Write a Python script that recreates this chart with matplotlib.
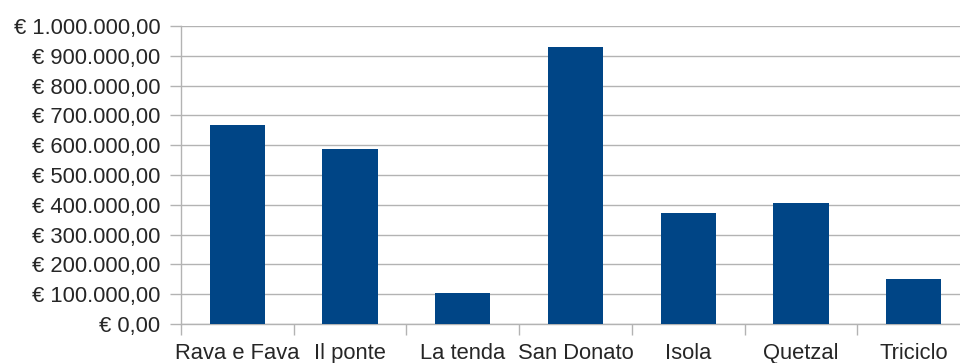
import matplotlib
matplotlib.use("Agg")
import matplotlib.pyplot as plt
from matplotlib.ticker import FuncFormatter, FixedLocator
import numpy as np

categories = ["Rava e Fava", "Il ponte", "La tenda", "San Donato", "Isola", "Quetzal", "Triciclo"]
values = [668000, 587000, 103000, 931000, 373000, 405000, 152000]
y_ticks = list(range(0, 1000001, 100000))

plt.rcParams["font.family"] = ["Liberation Sans", "DejaVu Sans"]

W, H = 960, 363
fig = plt.figure(figsize=(W / 100, H / 100), dpi=100)
fig.patch.set_facecolor("white")

# plot area in pixels: left edge 181, zero line at y=324, top gridline at y=26
left_px, right_px, bottom_px, top_px = 181, 970, 324, 26
ax = fig.add_axes([left_px / W, (H - bottom_px) / H,
                   (right_px - left_px) / W, (bottom_px - top_px) / H])

x = np.arange(len(categories))
ax.bar(x, values, width=0.49, color="#004586", zorder=3)

ax.set_xlim(-0.5, len(categories) - 0.5)
ax.set_ylim(0, 1000000)


def euro(v, pos=None):
    s = f"{v:,.2f}".replace(",", "X").replace(".", ",").replace("X", ".")
    return f"€ {s}"


ax.yaxis.set_major_locator(FixedLocator(y_ticks))
ax.yaxis.set_major_formatter(FuncFormatter(euro))
ax.grid(axis="y", color="#b3b3b3", linewidth=1.0, zorder=0)

ax.set_xticks(x)
ax.set_xticklabels(categories)
ax.set_xticks(np.arange(-0.5, len(categories), 1.0), minor=True)

grid_gray = "#b3b3b3"
text_col = "#262626"
ax.tick_params(axis="x", which="major", length=0, pad=14, labelsize=15.8, labelcolor=text_col)
ax.tick_params(axis="x", which="minor", length=8, width=1.0, color=grid_gray)
ax.tick_params(axis="y", which="major", length=8, width=1.0, color=grid_gray,
               pad=7, labelsize=15.8, labelcolor=text_col)

for side in ("top", "right"):
    ax.spines[side].set_visible(False)
for side in ("left", "bottom"):
    ax.spines[side].set_color(grid_gray)
    ax.spines[side].set_linewidth(1.0)

fig.savefig("out.png", dpi=100, facecolor="white")
